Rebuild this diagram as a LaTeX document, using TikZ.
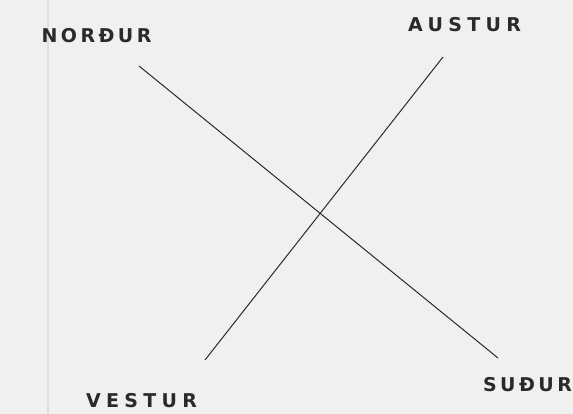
\documentclass[tikz,border=0pt]{standalone}
\usepackage{fontspec}
\newfontfamily\lblfont[LetterSpace=28]{DejaVu Sans}
\newfontfamily\lblfontn[LetterSpace=18]{DejaVu Sans}
\definecolor{bgc}{HTML}{F0F0F0}
\definecolor{ink}{HTML}{2A2A2A}
\begin{document}
\begin{tikzpicture}[x=1pt,y=-1pt,
  lbl/.style={font=\lblfont\bfseries\fontsize{19}{19}\selectfont, text=ink, inner sep=0pt, anchor=center},
  lbln/.style={lbl, font=\lblfontn\bfseries\fontsize{19}{19}\selectfont},
  axis/.style={draw=ink, line width=1pt}]
\fill[bgc] (0,0) rectangle (573,414);
\useasboundingbox (0,0) rectangle (573,414);
\draw[draw=black!12, line width=1.5pt] (48,0) -- (48,414);
\node[lbln] (n) at (96.5,36) {NORÐUR};
\node[lbl] (a) at (464.5,25) {AUSTUR};
\node[lbln] (s) at (527.5,385) {SUÐUR};
\node[lbl] (v) at (141.5,401) {VESTUR};
\coordinate (n1) at (139,66);
\coordinate (s1) at (498,358);
\coordinate (a1) at (443,57);
\coordinate (v1) at (205,360);
\draw[axis] (n1) -- (s1);
\draw[axis] (a1) -- (v1);
\end{tikzpicture}
\end{document}
